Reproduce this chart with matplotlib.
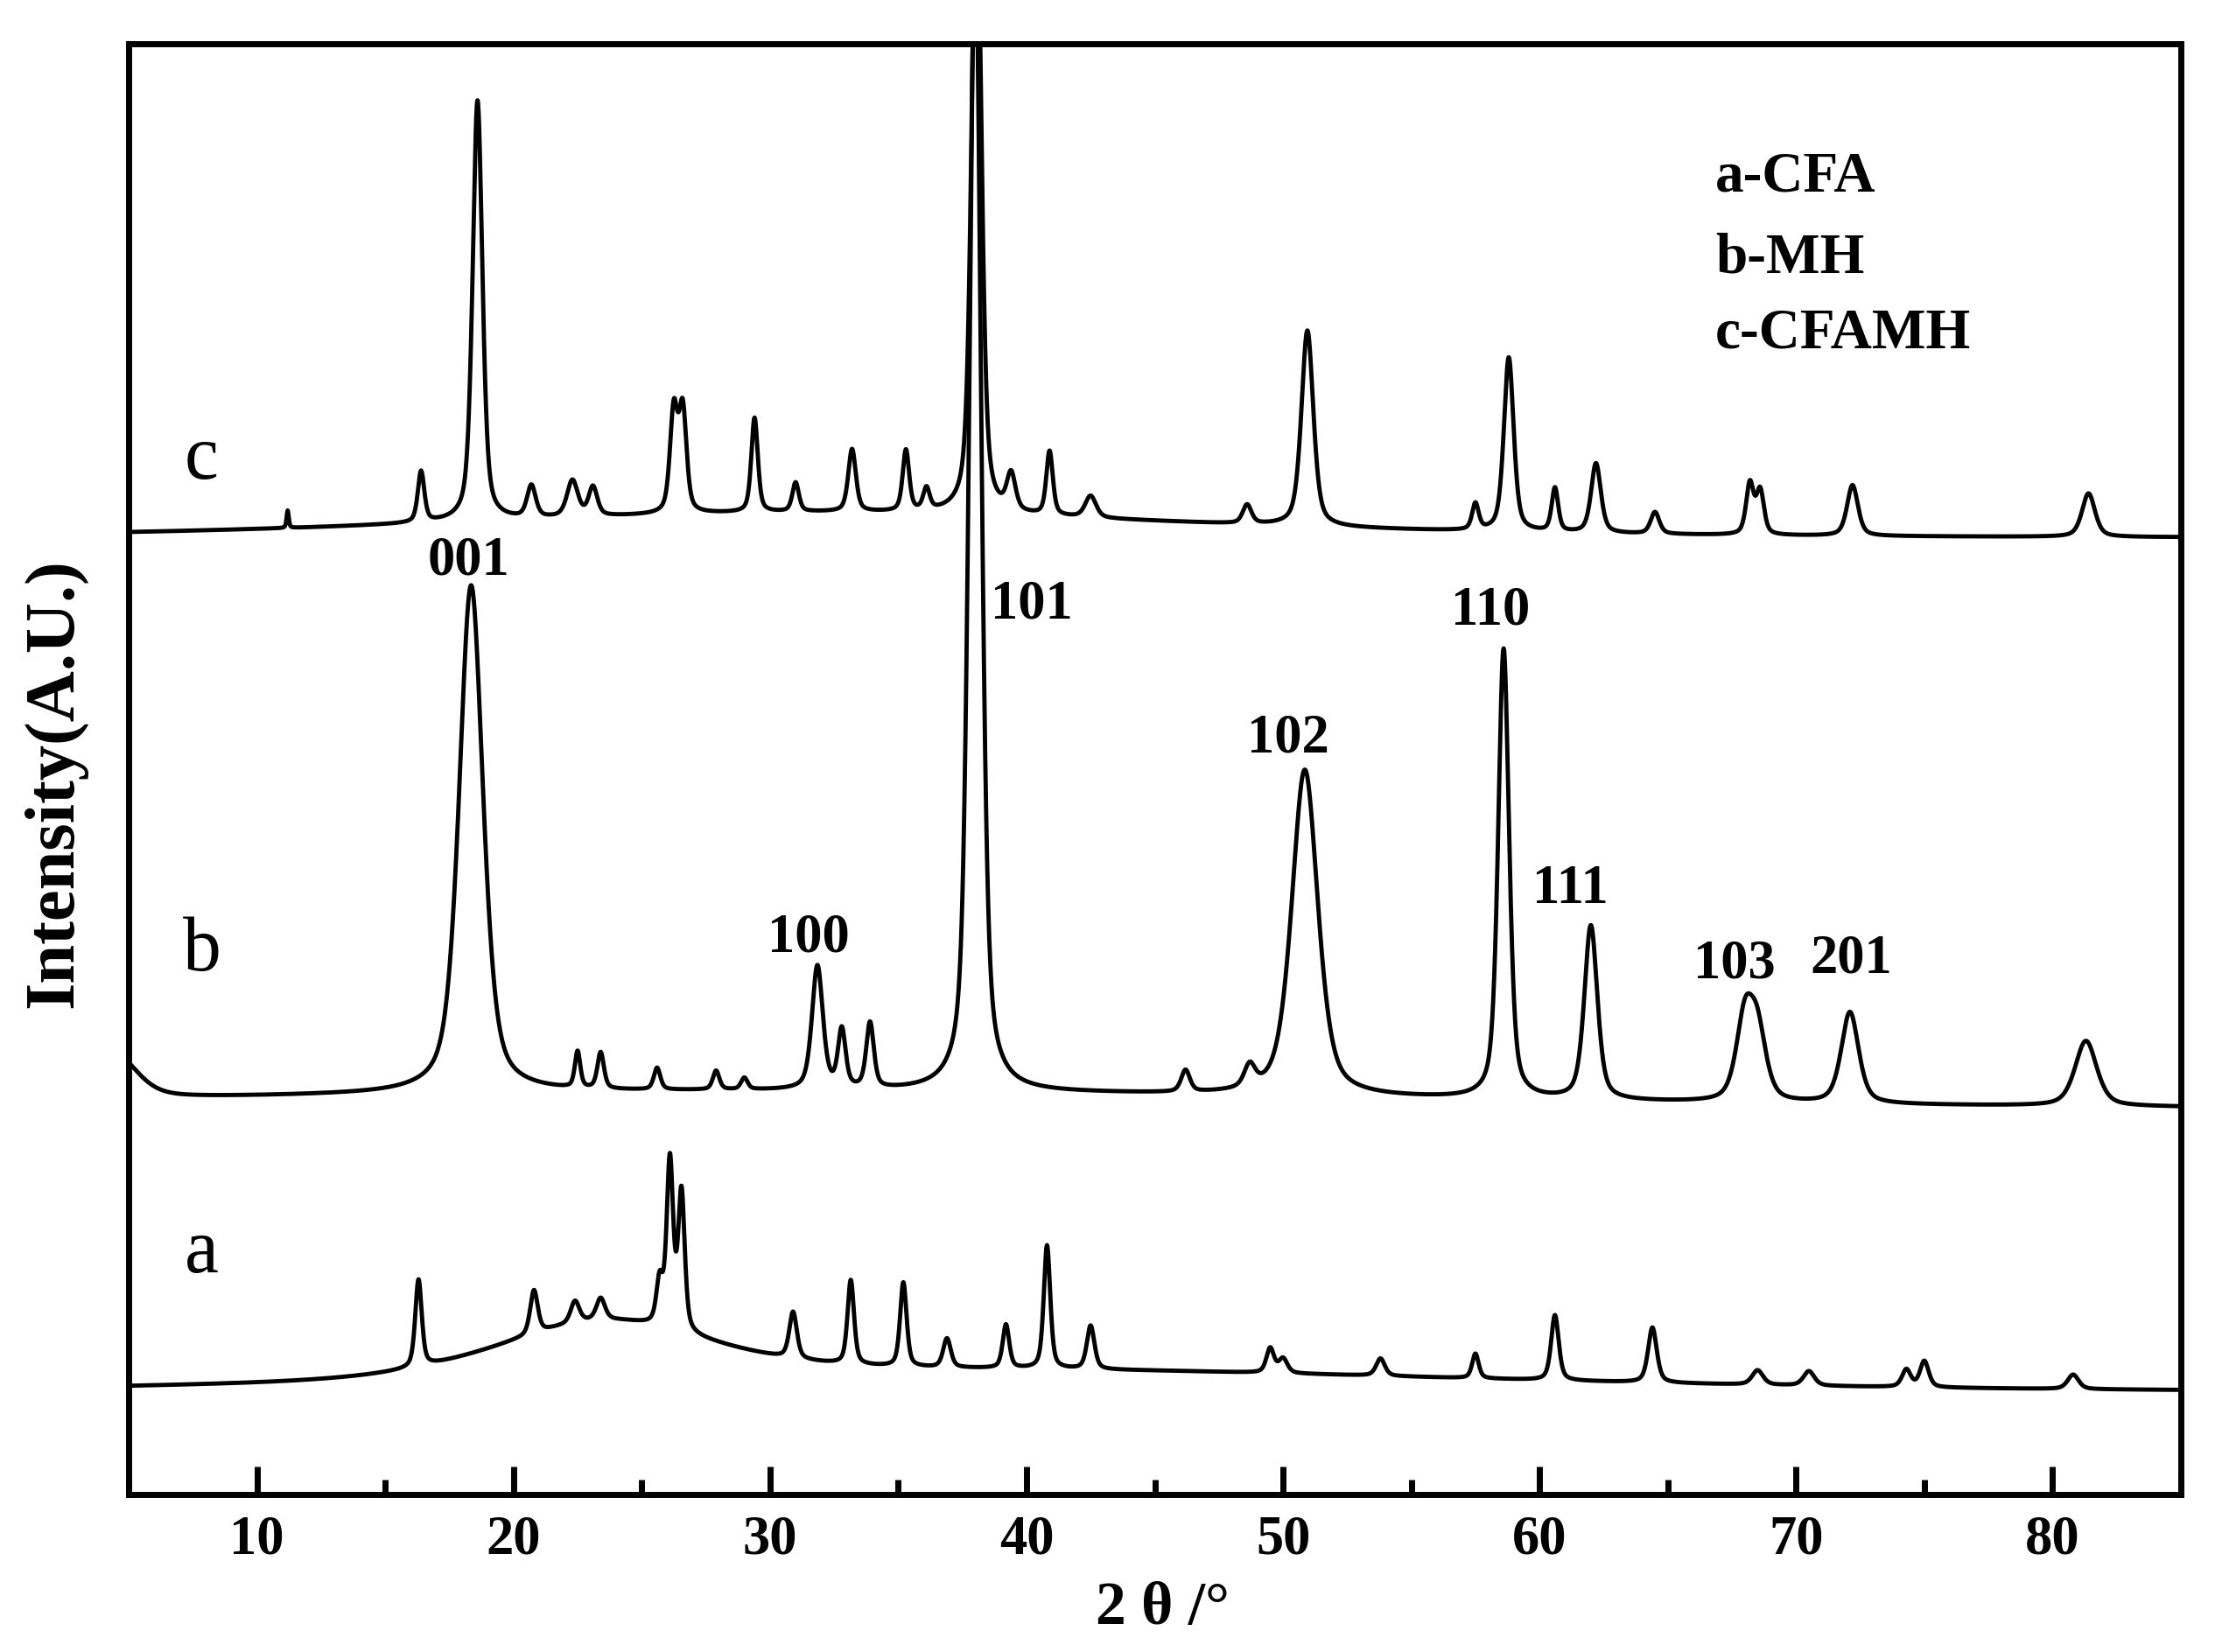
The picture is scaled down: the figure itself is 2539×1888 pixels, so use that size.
import numpy as np
import matplotlib
matplotlib.use('Agg')
import matplotlib.pyplot as plt
from matplotlib.ticker import MultipleLocator

plt.rcParams['font.family'] = ['Liberation Serif', 'DejaVu Serif']

# peak lists: (2theta, height, fwhm), heights in A.U. above baseline
# a-CFA
a_offset = 7.0
a_peaks = [(23.5, 4.0, 10.0), (40.0, 1.5, 45.0),           # amorphous hump + broad background
           (16.3, 6.0, 0.3), (20.8, 3.0, 0.35), (22.4, 1.5, 0.4), (23.4, 1.5, 0.4),
           (25.7, 3.0, 0.3), (26.1, 11.5, 0.3), (26.55, 9.5, 0.3),
           (30.9, 3.2, 0.35), (33.15, 5.8, 0.3), (35.2, 5.8, 0.3), (36.9, 2.0, 0.35),
           (39.2, 3.0, 0.3), (40.8, 8.5, 0.3), (42.5, 3.0, 0.35), (49.5, 1.7, 0.35),
           (50.0, 1.0, 0.4), (53.8, 1.2, 0.4), (57.5, 1.7, 0.3), (60.6, 4.5, 0.35),
           (64.4, 3.8, 0.4), (68.5, 1.0, 0.5), (70.5, 1.0, 0.5), (74.3, 1.2, 0.4),
           (75.0, 1.8, 0.4), (80.8, 1.0, 0.5)]

# b-MH
b_offset = 26.5
b_peaks = [(30.0, 1.3, 60.0), (4.5, 3.0, 2.0),
           (18.35, 35.0, 1.1), (22.5, 2.5, 0.25), (23.4, 2.5, 0.3), (25.6, 1.5, 0.3),
           (27.9, 1.3, 0.3), (29.0, 0.8, 0.3), (31.85, 8.5, 0.5), (32.8, 4.0, 0.35),
           (33.9, 4.5, 0.35), (38.0, 80.0, 0.55), (46.2, 1.5, 0.4), (48.7, 1.5, 0.5),
           (50.85, 22.5, 1.2), (58.6, 31.0, 0.5), (62.0, 12.0, 0.6), (68.0, 5.5, 0.8),
           (68.5, 4.5, 0.8), (72.1, 6.3, 0.8), (81.3, 4.5, 1.0)]

# c-CFAMH
c_offset = 65.9
c_peaks = [(32.0, 1.8, 35.0),
           (11.2, 1.2, 0.1), (16.4, 3.5, 0.3), (18.6, 29.0, 0.45), (20.7, 2.2, 0.4),
           (22.3, 2.5, 0.5), (23.1, 2.0, 0.4), (26.25, 7.0, 0.35), (26.6, 7.0, 0.35),
           (29.4, 6.5, 0.3), (31.0, 2.0, 0.3), (33.2, 4.3, 0.35), (35.3, 4.2, 0.3),
           (36.1, 1.5, 0.3), (38.05, 45.0, 0.45), (39.4, 2.5, 0.4), (40.9, 4.4, 0.3),
           (42.5, 1.5, 0.5), (48.6, 1.3, 0.4), (50.95, 13.5, 0.55), (57.5, 1.8, 0.3),
           (58.8, 12.0, 0.45), (60.6, 3.0, 0.3), (62.2, 4.8, 0.45), (64.5, 1.5, 0.4),
           (68.2, 3.5, 0.35), (68.6, 3.0, 0.35), (72.2, 3.5, 0.5), (81.4, 3.0, 0.6)]

# hkl labels of MH: text, 2theta, y
hkl_text = ['001', '100', '101', '102', '110', '111', '103', '201']
hkl_x = [18.25, 31.5, 40.2, 50.2, 58.1, 61.2, 67.6, 72.15]
hkl_y = [64.3, 38.3, 61.3, 52.1, 60.9, 41.7, 36.5, 36.9]

curve_names = ['a', 'b', 'c']
curve_name_y = [16.6, 37.4, 71.3]
legend_lines = ['a-CFA', 'b-MH', 'c-CFAMH']
legend_y = [90.8, 85.2, 80.0]


def pattern(x, offset, peaks, eta=0.5):
    y = np.full_like(x, offset)
    for pos, h, w in peaks:
        d = (x - pos) / (w / 2.0)
        g = np.exp(-np.log(2) * d ** 2)
        lor = 1.0 / (1.0 + d ** 2)
        y += h * (eta * lor + (1 - eta) * g)
    return y


x = np.linspace(5, 85, 8001)

fig = plt.figure(figsize=(25.39, 18.88), dpi=100)
ax = fig.add_axes([147 / 2539, 180 / 1888, 2345 / 2539, 1658 / 1888])

for off, pk in [(a_offset, a_peaks), (b_offset, b_peaks), (c_offset, c_peaks)]:
    ax.plot(x, pattern(x, off, pk), color='black', lw=3.5)

ax.set_xlim(5, 85)
ax.set_ylim(0, 100)

for sp in ax.spines.values():
    sp.set_linewidth(5)

ax.xaxis.set_major_locator(MultipleLocator(10))
ax.xaxis.set_minor_locator(MultipleLocator(5))
ax.tick_params(axis='x', which='major', direction='in', length=23, width=5,
               pad=17, labelsize=45, top=False)
ax.tick_params(axis='x', which='minor', direction='in', length=12, width=5, top=False)
ax.set_yticks([])
for lab in ax.get_xticklabels():
    lab.set_fontweight('bold')

ax.set_xlabel('2 θ /°', fontsize=50, fontweight='bold')
ax.xaxis.set_label_coords(0.504, -0.06)
ax.set_ylabel('Intensity(A.U.)', fontsize=58, fontweight='bold')
ax.yaxis.set_label_coords(-0.036, 0.49)
ax.yaxis.label.set_verticalalignment('center')

for t, xx, yy in zip(hkl_text, hkl_x, hkl_y):
    ax.text(xx, yy, t, fontsize=45, fontweight='bold', ha='center', va='center')

for t, yy in zip(curve_names, curve_name_y):
    ax.text(7.85, yy, t, fontsize=63, ha='center', va='center')

for t, yy in zip(legend_lines, legend_y):
    ax.text(66.85, yy, t, fontsize=47, fontweight='bold', ha='left', va='center')

fig.savefig('out.png', dpi=100)
